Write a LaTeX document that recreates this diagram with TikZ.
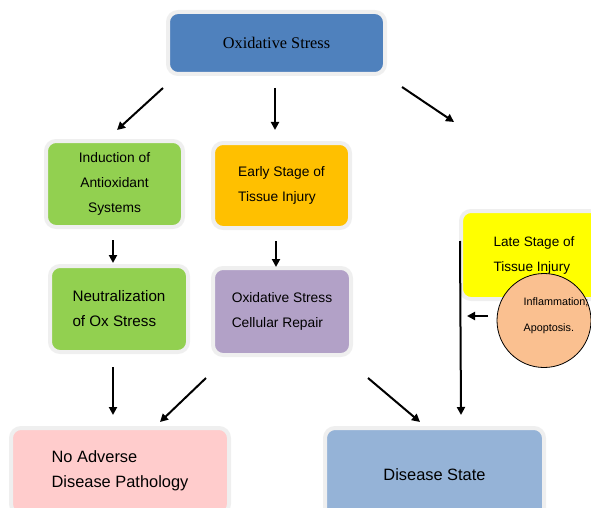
\documentclass[tikz,border=0pt]{standalone}
\usepackage{fontspec}
\setmainfont{Liberation Sans}
\newfontfamily\timesfont{Liberation Serif}
\usetikzlibrary{arrows.meta}
\usetikzlibrary{shapes}
\definecolor{boxrim}{HTML}{EFEFEF}
\definecolor{oxblue}{HTML}{4F81BD}
\definecolor{antigreen}{HTML}{92D050}
\definecolor{earlyorange}{HTML}{FFC000}
\definecolor{repairpurple}{HTML}{B2A1C7}
\definecolor{lateyellow}{HTML}{FFFF00}
\definecolor{inflampeach}{HTML}{FAC090}
\definecolor{nopink}{HTML}{FFCCCC}
\definecolor{diseaseblue}{HTML}{95B3D7}
\tikzset{
  box/.style={
    draw=boxrim,line width=4pt,rounded corners=10pt,align=left,
    font=\fontsize{13.8}{25}\selectfont,
  },
  bigbox/.style={box,font=\fontsize{16.4}{24.5}\selectfont},
  >={Triangle[length=8pt,width=8pt]},
}

\begin{document}
\begin{tikzpicture}[x=1pt,y=-1pt]
      \useasboundingbox (0,0) rectangle (591,508);
      \node[box,fill=oxblue,minimum width=217pt,minimum height=62pt,font=\timesfont\fontsize{16.3}{20}\selectfont] (ox) at (276.5,43) {Oxidative Stress};
      \node[box,fill=antigreen,align=center,minimum width=137pt,minimum height=86pt] (induct) at (114.5,184) {Induction of\\Antioxidant\\Systems};
      \node[box,fill=earlyorange,minimum width=137pt,minimum height=85pt] (early) at (281.5,185.5) {Early Stage of\\Tissue Injury};
      \node[box,fill=antigreen,minimum width=138pt,minimum height=86pt,font=\fontsize{15.2}{25}\selectfont] (neutral) at (119,309) {Neutralization\\of Ox Stress};
      \node[box,fill=repairpurple,minimum width=138pt,minimum height=87pt] (repair) at (282,311.5) {Oxidative Stress\\Cellular Repair};
      \node[box,fill=lateyellow,minimum width=146pt,minimum height=88pt,font=\fontsize{13.6}{25}\selectfont] (late) at (534,255) {Late Stage of\\Tissue Injury};
      \node[bigbox,fill=nopink,minimum width=218pt,minimum height=86pt] (noadv) at (120,471) {No Adverse\\Disease Pathology};
      \node[bigbox,fill=diseaseblue,minimum width=219pt,minimum height=94pt] (disease) at (434.5,475) {Disease State};
      \node[circle,draw=black,line width=0.8pt,fill=inflampeach,minimum size=94pt,
        label={[align=left,font=\fontsize{10.8}{26}\selectfont,xshift=12pt,yshift=5pt]center:Inflammation;\\Apoptosis.}] (inflam) at (544,320.5) {};

      % arrow ends
      \coordinate (ox-a) at (163,88);      \coordinate (induct-a) at (117,130);
      \coordinate (ox-b) at (275,88);      \coordinate (early-b) at (275,130);
      \coordinate (ox-c) at (402,87);      \coordinate (late-c) at (454,122);
      \coordinate (induct-d) at (113,240); \coordinate (neutral-d) at (113,263);
      \coordinate (early-e) at (276,241);  \coordinate (repair-e) at (276,267);
      \coordinate (neutral-f) at (113,367);\coordinate (noadv-f) at (113,415);
      \coordinate (repair-g) at (206,378); \coordinate (noadv-g) at (160,422);
      \coordinate (repair-h) at (368,378); \coordinate (disease-h) at (420,422);
      \coordinate (late-i) at (460,241);   \coordinate (disease-i) at (461,415);
      \coordinate (inflam-j) at (488,316); \coordinate (line-j) at (467,316);

      \path[->,line width=2pt] (ox-a) edge (induct-a);
      \path[->,line width=2pt] (ox-b) edge (early-b);
      \path[->,line width=2pt] (ox-c) edge (late-c);
      \path[->,line width=2pt] (induct-d) edge (neutral-d);
      \path[->,line width=2pt] (early-e) edge (repair-e);
      \path[->,line width=2pt] (neutral-f) edge (noadv-f);
      \path[->,line width=2pt] (repair-g) edge (noadv-g);
      \path[->,line width=2pt] (repair-h) edge (disease-h);
      \path[->,line width=2pt] (late-i) edge (disease-i);
      \path[->,line width=2pt] (inflam-j) edge (line-j);
\end{tikzpicture}
\end{document}
